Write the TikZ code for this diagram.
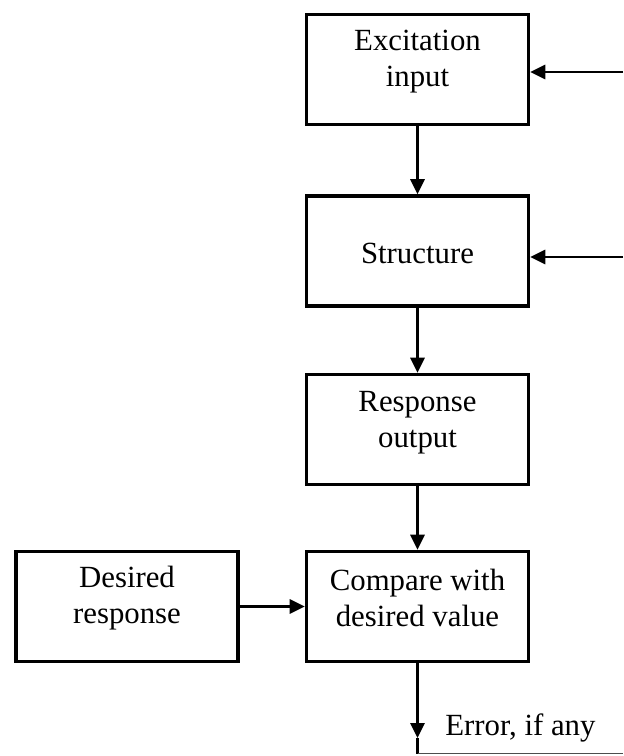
\documentclass[tikz,border=0pt]{standalone}
\usepackage{fontspec}
\setmainfont{Liberation Serif}
\usetikzlibrary{arrows.meta,calc}
\begin{document}
\begin{tikzpicture}[x=0.5pt,y=-0.5pt,
  block/.style={draw,line width=1.8pt,minimum width=111pt,minimum height=55pt,inner sep=0pt},
  lbl/.style={align=center,font=\fontsize{15.4}{18}\selectfont,inner sep=0pt},
  flow/.style={line width=1.4pt,-{Triangle[length=7.5pt,width=7pt]}},
  plain/.style={line width=1.4pt}]
\useasboundingbox (0,0) rectangle (623,756);
% blocks
\node[block] (exc) at (417.5,69.5) {};
\node[block] (str) at (417.5,251) {};
\node[block] (resp) at (417.5,429.5) {};
\node[block] (cmp) at (417.5,606.5) {};
\node[block] (des) at (127,606.5) {};
% texts inside the blocks
\node[lbl] (excT) at (417.5,62) {Excitation\\input};
\node[lbl] (strT) at (417.5,253) {Structure};
\node[lbl] (respT) at (417.5,423) {Response\\output};
\node[lbl] (cmpT) at (417.5,598) {Compare with\\desired value};
\node[lbl] (desT) at (127,598) {Desired\\response};
\node[lbl,anchor=west] (err) at (445,728) {Error, if any};
% feedback inputs entering from the right
\coordinate (fb1) at (623,72);
\coordinate (fb2) at (623,257);
\draw[flow] (fb1) -- (fb1 -| exc.east);
\draw[flow] (fb2) -- (fb2 -| str.east);
% main chain
\draw[flow] (exc.south) -- (str.north);
\draw[flow] (str.south) -- (resp.north);
\draw[flow] (resp.south) -- (cmp.north);
\draw[flow] (des.east) -- (cmp.west);
% error output
\coordinate (e1) at (417.5,738);
\coordinate (e2) at (417.5,753.5);
\coordinate (e3) at (623,753.5);
\draw[flow] (cmp.south) -- (e1);
\draw[plain] (e1) -- (e2);
\draw[line width=0.6pt,black!70] (e2) -- (e3);
\end{tikzpicture}
\end{document}
